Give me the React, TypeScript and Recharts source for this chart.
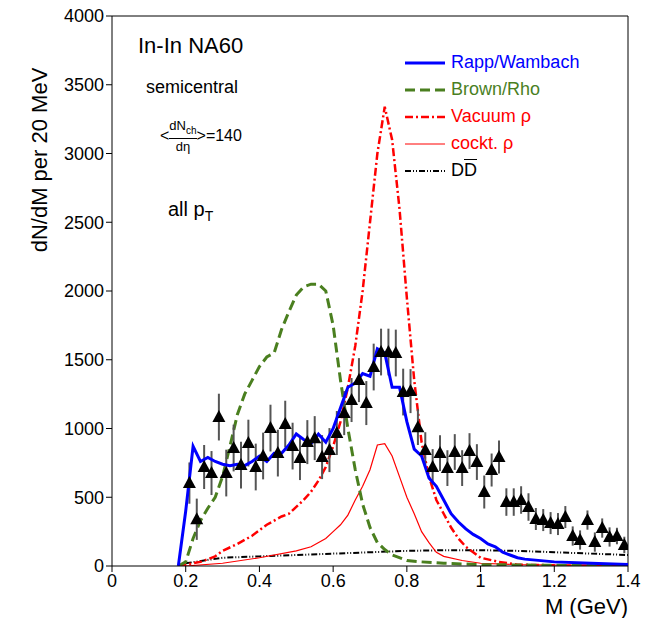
import React from 'react';
import { ComposedChart, Line, Scatter, XAxis, YAxis, ErrorBar, ReferenceLine } from 'recharts';

const dataY = [603,340,720,676,1083,676,858,734,894,720,800,1003,821,1032,872,785,901,930,792,843,967,1112,1207,1352,1185,1447,1556,1556,1549,1265,1272,1010,843,720,821,712,829,712,836,756,538,698,792,465,465,480,429,342,334,312,305,356,218,189,334,174,276,211,218,153];
const dataErr = [150,150,160,160,170,170,170,170,170,170,170,170,170,170,170,160,160,160,160,160,160,160,160,160,160,170,170,170,170,170,160,130,130,130,130,130,130,130,130,130,120,120,120,100,100,100,100,80,80,80,80,80,70,70,70,70,70,70,60,60];
const points = dataY.map((y, i) => ({ x: +(0.21 + 0.02 * i).toFixed(2), y, e: dataErr[i] }));

const rappX = [0.18,0.2,0.22,0.24,0.26,0.28,0.3,0.32,0.34,0.36,0.38,0.4,0.42,0.44,0.46,0.48,0.5,0.52,0.54,0.56,0.58,0.6,0.62,0.64,0.66,0.68,0.7,0.72,0.74,0.76,0.78,0.8,0.82,0.84,0.86,0.88,0.9,0.92,0.94,0.96,0.98,1.0,1.02,1.04,1.06,1.08,1.1,1.12,1.2,1.3,1.4];
const rappY = [0,400,870,760,790,760,740,730,740,730,760,800,760,820,820,880,960,920,890,960,900,1000,1150,1300,1330,1400,1380,1580,1550,1300,1300,1050,850,800,640,580,480,380,320,270,230,200,160,140,100,80,60,50,30,20,10];
const brownX = [0.18,0.2,0.22,0.24,0.26,0.28,0.3,0.32,0.34,0.36,0.38,0.4,0.42,0.44,0.46,0.48,0.5,0.52,0.54,0.56,0.58,0.6,0.62,0.64,0.66,0.68,0.7,0.72,0.74,0.76,0.8,0.84,0.9,1.0,1.2,1.4];
const brownY = [0,30,200,330,420,500,650,870,1100,1250,1350,1450,1520,1550,1720,1850,1970,2030,2050,2050,2000,1750,1350,1000,700,450,280,170,120,80,40,30,20,10,5,0];
const vacX = [0.18,0.2,0.24,0.28,0.3,0.34,0.38,0.42,0.46,0.48,0.5,0.52,0.54,0.56,0.58,0.6,0.62,0.64,0.66,0.68,0.7,0.72,0.74,0.76,0.78,0.8,0.82,0.84,0.86,0.88,0.9,0.92,0.94,0.96,0.98,1.0,1.05,1.1,1.2,1.4];
const vacY = [0,10,30,70,110,160,220,300,360,380,430,480,540,620,720,870,1050,1300,1600,2000,2500,3000,3340,3100,2600,1950,1350,900,650,480,380,280,200,140,100,60,30,10,5,0];
const cockX = [0.2,0.3,0.4,0.5,0.54,0.58,0.6,0.62,0.64,0.66,0.68,0.7,0.72,0.74,0.76,0.78,0.8,0.82,0.84,0.86,0.88,0.9,0.95,1.0,1.1,1.4];
const cockY = [0,20,60,110,140,200,250,300,370,480,580,700,880,890,800,650,500,380,250,170,100,70,40,20,10,0];
const ddX = [0.2,0.3,0.4,0.5,0.6,0.7,0.8,0.9,1.0,1.1,1.2,1.3,1.4];
const ddY = [20,60,70,80,90,100,110,115,115,110,100,90,80];
const xTicks = [0,0.2,0.4,0.6,0.8,1,1.2,1.4];
const yTicks = [0,500,1000,1500,2000,2500,3000,3500,4000];

const zip = (xs: number[], ys: number[]) => xs.map((x, i) => ({ x, y: ys[i] }));

const Tri = (p: any) => {
  const { cx, cy } = p;
  if (cx == null) return null;
  return <path d={`M${cx},${cy - 7}L${cx + 6.5},${cy + 5}L${cx - 6.5},${cy + 5}Z`} fill="#000" />;
};

const font = '"Liberation Sans", Arial, sans-serif';

export default function App() {
  const leg = [
    { t: 'Rapp/Wambach', c: '#0000ff', d: '', w: 3 },
    { t: 'Brown/Rho', c: '#4a7f1f', d: '10 5', w: 3 },
    { t: 'Vacuum ρ', c: '#ff0000', d: '8 3 2 3', w: 2.5 },
    { t: 'cockt. ρ', c: '#ff0000', d: '', w: 1 },
    { t: 'DD', c: '#000', d: '6 2 1 2 1 2', w: 2 },
  ];
  return (
    <div style={{ position: 'relative', width: 652, height: 626, margin: -8, fontFamily: font, background: '#fff' }}>
      <ComposedChart width={652} height={626} margin={{ top: 16, right: 24, bottom: 30, left: 0 }}>
        <XAxis type="number" dataKey="x" domain={[0, 1.4]} ticks={xTicks} allowDataOverflow
          tick={{ fill: '#000', fontSize: 18, fontFamily: font }} stroke="#000" tickSize={6} height={30} />
        <YAxis type="number" dataKey="y" domain={[0, 4000]} ticks={yTicks} allowDataOverflow width={112}
          tick={{ fill: '#000', fontSize: 18, fontFamily: font }} stroke="#000" tickSize={6} />
        <ReferenceLine y={4000} stroke="#000" />
        <ReferenceLine x={1.4} stroke="#000" />
        <Line data={zip(ddX, ddY)} dataKey="y" stroke="#000" strokeWidth={2} strokeDasharray="6 2 1 2 1 2" dot={false} isAnimationActive={false} />
        <Line data={zip(cockX, cockY)} dataKey="y" stroke="#ff0000" strokeWidth={1.2} dot={false} isAnimationActive={false} />
        <Line data={zip(vacX, vacY)} dataKey="y" stroke="#ff0000" strokeWidth={2.5} strokeDasharray="8 3 2 3" dot={false} isAnimationActive={false} />
        <Line data={zip(brownX, brownY)} dataKey="y" stroke="#4a7f1f" strokeWidth={3} strokeDasharray="10 5" dot={false} isAnimationActive={false} />
        <Scatter data={points} dataKey="y" shape={<Tri />} isAnimationActive={false}>
          <ErrorBar dataKey="e" direction="y" width={0} stroke="#555" strokeWidth={2} />
        </Scatter>
        <Line data={zip(rappX, rappY)} dataKey="y" stroke="#0000ff" strokeWidth={3} dot={false} isAnimationActive={false} />
      </ComposedChart>
      <div style={{ position: 'absolute', left: 40, top: 160, transform: 'translate(-50%,-50%) rotate(-90deg)', whiteSpace: 'nowrap', fontSize: 22 }}>
        dN/dM per 20 MeV
      </div>
      <div style={{ position: 'absolute', right: 24, top: 594, fontSize: 22 }}>M (GeV)</div>
      <div style={{ position: 'absolute', left: 138, top: 33, fontSize: 22 }}>In-In NA60</div>
      <div style={{ position: 'absolute', left: 146, top: 77, fontSize: 18 }}>semicentral</div>
      <div style={{ position: 'absolute', left: 160, top: 118, fontSize: 16, display: 'flex', alignItems: 'center' }}>
        <span>&lt;</span>
        <span style={{ display: 'inline-flex', flexDirection: 'column', alignItems: 'center', fontSize: 13, lineHeight: '15px' }}>
          <span style={{ borderBottom: '1px solid #000' }}>dN<sub style={{ fontSize: 10 }}>ch</sub></span>
          <span>dη</span>
        </span>
        <span>&gt;=140</span>
      </div>
      <div style={{ position: 'absolute', left: 168, top: 198, fontSize: 20 }}>all p<sub style={{ fontSize: 14 }}>T</sub></div>
      {leg.map((l, i) => (
        <div key={i} style={{ position: 'absolute', left: 405, top: 52 + i * 27, display: 'flex', alignItems: 'center', fontSize: 18, color: l.c }}>
          <svg width={40} height={12}><line x1={0} y1={6} x2={40} y2={6} stroke={l.c} strokeWidth={l.w} strokeDasharray={l.d} /></svg>
          <span style={{ marginLeft: 6 }}>{i === 4 ? <span>D<span style={{ textDecoration: 'overline' }}>D</span></span> : l.t}</span>
        </div>
      ))}
    </div>
  );
}
